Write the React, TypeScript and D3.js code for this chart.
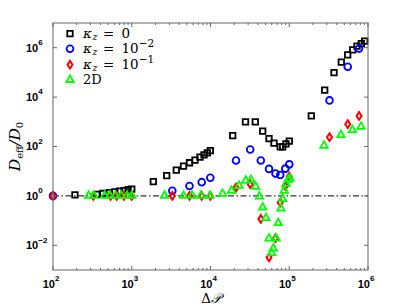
import React from "react";
import * as d3 from "d3";

const blackX = [190, 360, 430, 520, 610, 700, 800, 900, 1000, 1878, 2779, 3679, 4541, 5412, 6357, 7356, 8271, 9108, 9943, 19140, 27830, 37070, 46010, 55340, 64020, 76770, 82570, 90940, 100140, 190550, 281950, 370140, 458100, 552600, 639300, 725000, 822300, 908000];
const blackY = [1.1, 1.15, 1.25, 1.35, 1.45, 1.55, 1.65, 1.78, 1.9, 3.8, 6.6, 11, 16, 22, 28, 37, 46, 55, 68, 276, 990, 990, 416, 209, 136, 96, 96, 127, 164, 1733, 19030, 98100, 258800, 511300, 814700, 1150000, 1466000, 1833000];

const blueX = [100, 3273, 5412, 7732, 9943, 21078, 31929, 43519, 55338, 66900, 76770, 89090, 100140, 324400, 552600, 768700];
const blueY = [1, 1.6, 2.5, 3.6, 5.4, 27, 76, 27, 12.4, 8.0, 7.0, 12.7, 18.9, 7350, 170000, 920000];

const redX = [100, 325, 540, 644, 797, 999, 3273, 5412, 7732, 9943, 21078, 31929, 43519, 55338, 66900, 76770, 89090, 100140, 324400, 552600, 768700];
const redY = [1, 1, 1, 1, 1, 1, 1, 1, 1, 1, 2.17, 2.98, 0.117, 0.00324, 0.0194, 0.535, 2.5, 6.04, 238, 800, 1733];

const greenX = [283, 331, 452, 525, 618, 736, 871, 1000, 2606, 4541, 5824, 7577, 9856, 14206, 18482, 23010, 27990, 32685, 37497, 41660, 46013, 50686, 55338, 59874, 62737, 67880, 72611, 78578, 82573, 86517, 90940, 97250, 102200, 276250, 454100, 631900, 815100];
const greenY = [1.1, 1.1, 1.1, 1.1, 1.1, 1.1, 1.1, 1.1, 1.1, 1.1, 1.1, 1.1, 1.1, 1.32, 1.75, 2.79, 4.44, 4.74, 2.54, 1.03, 0.369, 0.137, 0.0205, 0.00526, 0.00807, 0.0205, 0.0861, 0.336, 0.807, 1.75, 3.27, 4.88, 5.51, 116, 315, 501, 682];

const xTickExps = ["2", "3", "4", "5", "6"];
const xTickVals = [1e2, 1e3, 1e4, 1e5, 1e6];
const yTickExps = ["−2", "0", "2", "4", "6"];
const yTickVals = [1e-2, 1e0, 1e2, 1e4, 1e6];

const legendLabels = ["0", "10", "10", ""];
const legendSups = ["", "−2", "−1", ""];

const L = 53, R = 368, T = 23, B = 270;

const x = d3.scaleLog().domain([1e2, 1e6]).range([L, R]);
const y = d3.scaleLog().domain([1e-3, 1e7]).range([B, T]);

const squarePath = d3.symbol(d3.symbolSquare, 30)()!;
const circlePath = d3.symbol(d3.symbolCircle, 36)()!;
const diamondPath = "M0,-3.8L2.5,0L0,3.8L-2.5,0Z";
const trianglePath = "M0,-3.6L3.7,3L-3.7,3Z";

function Markers({ xs, ys, d, color, sw }: { xs: number[]; ys: number[]; d: string; color: string; sw: number }) {
  return (
    <g>
      {xs.map((v, i) => (
        <path key={i} d={d} transform={`translate(${x(v)},${y(ys[i])})`} fill="none" stroke={color} strokeWidth={sw} />
      ))}
    </g>
  );
}

export default function App() {
  const minorX: number[] = [];
  for (let e = 2; e < 6; e++) for (let m = 2; m < 10; m++) minorX.push(m * Math.pow(10, e));
  const tickFont = "'Liberation Sans', Arial, sans-serif";
  const mathFont = "'DejaVu Serif', 'Liberation Serif', serif";
  const legY = [33.7, 48.7, 64.7, 79];
  const markerPaths = [squarePath, circlePath, diamondPath, trianglePath];
  const colors = ["#000000", "#0000ff", "#ff0000", "#00ff00"];
  const sws = [1.8, 1.8, 2, 1.8];
  return (
    <svg width={407} height={307} style={{ position: "absolute", left: 0, top: 0, background: "#fff" }}>
      <rect x={0} y={0} width={407} height={307} fill="#fff" />
      <line x1={L} x2={R} y1={y(1)} y2={y(1)} stroke="#333" strokeWidth={1.4} strokeDasharray="6,2.5,1.5,2.5" />
      <Markers xs={blackX} ys={blackY} d={squarePath} color="#000000" sw={1.8} />
      <Markers xs={blueX} ys={blueY} d={circlePath} color="#0000ff" sw={1.8} />
      <Markers xs={redX} ys={redY} d={diamondPath} color="#ff0000" sw={2} />
      <Markers xs={greenX} ys={greenY} d={trianglePath} color="#00ff00" sw={1.8} />
      <rect x={L} y={T} width={R - L} height={B - T} fill="none" stroke="#666" strokeWidth={1} />
      {xTickVals.map((v, i) => (
        <g key={"xt" + i}>
          <line x1={x(v)} x2={x(v)} y1={B} y2={B - 4} stroke="#666" />
          <line x1={x(v)} x2={x(v)} y1={T} y2={T + 4} stroke="#666" />
        </g>
      ))}
      {minorX.map((v, i) => (
        <g key={"xm" + i}>
          <line x1={x(v)} x2={x(v)} y1={B} y2={B - 2} stroke="#666" />
          <line x1={x(v)} x2={x(v)} y1={T} y2={T + 2} stroke="#666" />
        </g>
      ))}
      {yTickVals.map((v, i) => (
        <g key={"yt" + i}>
          <line x1={L} x2={L + 4} y1={y(v)} y2={y(v)} stroke="#666" />
          <line x1={R} x2={R - 4} y1={y(v)} y2={y(v)} stroke="#666" />
        </g>
      ))}
      {xTickVals.map((v, i) => (
        <text key={"xl" + i} x={x(v) - 2} y={287.5} textAnchor="middle" fontFamily={tickFont} fontWeight="bold" fontSize={11} fill="#000">
          10<tspan dy={-6.5} fontSize={8}>{xTickExps[i]}</tspan>
        </text>
      ))}
      {yTickVals.map((v, i) => (
        <text key={"yl" + i} x={26} y={y(v) + 3.8} textAnchor="start" fontFamily={tickFont} fontWeight="bold" fontSize={11} fill="#000">
          10<tspan dy={-6.5} fontSize={8}>{yTickExps[i]}</tspan>
        </text>
      ))}
      {legY.map((ly, i) => (
        <g key={"lg" + i}>
          <path d={markerPaths[i]} transform={`translate(70,${ly})`} fill="none" stroke={colors[i]} strokeWidth={sws[i]} />
          {i < 3 ? (
            <text x={83} y={ly + 4} fontFamily={mathFont} fontSize={13.5} fill="#000">
              <tspan fontStyle="italic">κ</tspan>
              <tspan x={92.5} fontStyle="italic" fontSize={9.5} dy={2}>z</tspan>
              <tspan x={103} dy={-2}>=</tspan>
              <tspan x={121.5}>{legendLabels[i]}</tspan>
              {legendSups[i] ? <tspan fontSize={10.5} dy={-6}>{legendSups[i]}</tspan> : null}
            </text>
          ) : (
            <text x={83} y={ly + 5} fontFamily={mathFont} fontSize={13} fill="#000">2D</text>
          )}
        </g>
      ))}
      <text x={211} y={303} textAnchor="middle" fontFamily={mathFont} fontSize={13.5} fill="#000">
        Δ<tspan fontStyle="italic">𝒫</tspan>
      </text>
      <text transform="translate(20,146.5) rotate(-90)" textAnchor="middle" fontFamily={mathFont} fontSize={15.5} fill="#000">
        <tspan fontStyle="italic">D</tspan>
        <tspan fontSize={10} dy={3}>eff</tspan>
        <tspan dy={-3} fontStyle="italic">/D</tspan>
        <tspan fontSize={10} dy={3}>0</tspan>
      </text>
    </svg>
  );
}
